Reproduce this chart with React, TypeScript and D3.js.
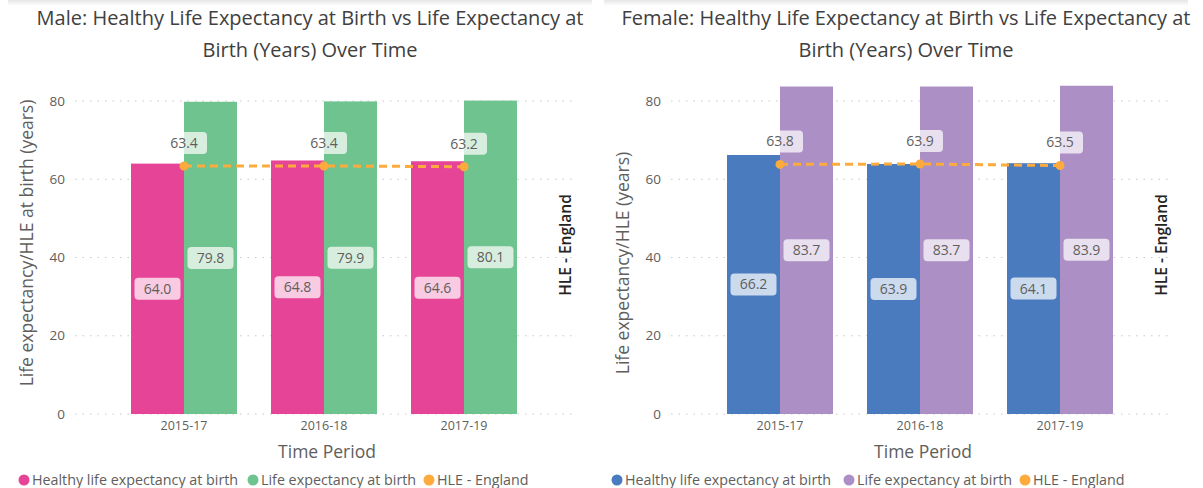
import React from "react";
import * as d3 from "d3";

const periods = ["2015-17", "2016-18", "2017-19"];
const yTicks = [0, 20, 40, 60, 80];

const maleHle = [64.0, 64.8, 64.6];
const maleLe = [79.8, 79.9, 80.1];
const maleEngland = [63.4, 63.4, 63.2];

const femaleHle = [66.2, 63.9, 64.1];
const femaleLe = [83.7, 83.7, 83.9];
const femaleEngland = [63.8, 63.9, 63.5];

const legendNames = ["Healthy life expectancy at birth", "Life expectancy at birth", "HLE - England"];

const FONT = "'Segoe UI', 'Open Sans', sans-serif";
const GREY = "#605E5C";
const ORANGE = "#FDAB3D";

type PanelProps = {
  left: number;
  title: string[];
  yTitle: string;
  yTitleY: number;
  hle: number[];
  le: number[];
  england: number[];
  colors: string[];
  legendX: number[];
};

function Panel(p: PanelProps) {
  const L = p.left;
  var x = d3.scaleBand()
    .domain(periods)
    .range([L + 114, L + 534])
    .paddingInner(0.243)
    .paddingOuter(0.1215);
  var sub = d3.scaleBand().domain(["hle", "le"]).range([0, x.bandwidth()]);
  var y = d3.scaleLinear().domain([0, 80]).range([414, 101]);

  var gx0 = L + 75, gx1 = L + 575;
  var cx = (d: string) => (x(d) as number) + x.bandwidth() / 2;

  var line = d3.line<number>()
    .x((d, i) => cx(periods[i]))
    .y(d => y(d));

  const label = (txt: string, lx: number, ly: number, key: string) => {
    var w = 46;
    return (
      <g key={key}>
        <rect x={lx - w / 2} y={ly - 11} width={w} height={22} rx={4}
          fill="white" fillOpacity={0.72} />
        <text x={lx} y={ly} dy="0.35em" textAnchor="middle" fontSize={14} fill={GREY}>{txt}</text>
      </g>
    );
  };

  return (
    <g fontFamily={FONT}>
      {/* card shadow */}
      <rect x={L + 8} y={0} width={584} height={6} fill="url(#shadow)" />
      {p.title.map((t, i) => (
        <text key={t} x={L + 310} y={18 + i * 32} dy="0.35em" textAnchor="middle"
          fontSize={20} fill="#404040">{t}</text>
      ))}

      {yTicks.map(t => (
        <g key={t}>
          <line x1={gx0} x2={gx1} y1={y(t)} y2={y(t)} stroke="#C8C8C8"
            strokeDasharray="1.5 6" />
          <text x={L + 65} y={y(t)} dy="0.35em" textAnchor="end" fontSize={13.5} fill={GREY}>{t}</text>
        </g>
      ))}

      <text transform={`translate(${L + 27},${p.yTitleY}) rotate(-90)`} textAnchor="middle"
        dy="0.35em" fontSize={17.5} fill={GREY}>{p.yTitle}</text>
      <text transform={`translate(${L + 566},${245}) rotate(-90)`} textAnchor="middle"
        dy="0.35em" fontSize={15.5} fontWeight={600} fill="#252423">HLE - England</text>

      {periods.map((d, i) => (
        <g key={d}>
          <rect x={(x(d) as number) + (sub("hle") as number)} y={y(p.hle[i])}
            width={sub.bandwidth()} height={y(0) - y(p.hle[i])} fill={p.colors[0]} />
          <rect x={(x(d) as number) + (sub("le") as number)} y={y(p.le[i])}
            width={sub.bandwidth()} height={y(0) - y(p.le[i])} fill={p.colors[1]} />
          <text x={cx(d)} y={426} dy="0.35em" textAnchor="middle" fontSize={12.5} fill={GREY}>{d}</text>
        </g>
      ))}

      <path d={line(p.england) as string} fill="none" stroke={ORANGE} strokeWidth={3}
        strokeDasharray="8 5" />
      {p.england.map((v, i) => (
        <circle key={i} cx={cx(periods[i])} cy={y(v)} r={4.5} fill={ORANGE} />
      ))}

      {periods.map((d, i) => label(p.hle[i].toFixed(1),
        (x(d) as number) + (sub("hle") as number) + sub.bandwidth() / 2,
        (y(p.hle[i]) + y(0)) / 2, "h" + i))}
      {periods.map((d, i) => label(p.le[i].toFixed(1),
        (x(d) as number) + (sub("le") as number) + sub.bandwidth() / 2,
        (y(p.le[i]) + y(0)) / 2, "l" + i))}
      {periods.map((d, i) => label(p.england[i].toFixed(1), cx(d), y(p.england[i]) - 23, "e" + i))}

      <text x={L + 327} y={452} dy="0.35em" textAnchor="middle" fontSize={17.5} fill={GREY}>Time Period</text>

      {legendNames.map((n, i) => (
        <g key={n}>
          <circle cx={L + p.legendX[i]} cy={480} r={5.5}
            fill={i === 2 ? ORANGE : p.colors[i]} />
          <text x={L + p.legendX[i] + 8} y={480} dy="0.35em" fontSize={14.3} fill={GREY}>{n}</text>
        </g>
      ))}
    </g>
  );
}

export default function App() {
  return (
    <svg width={1203} height={488} style={{ position: "absolute", left: 0, top: 0, background: "white" }}>
      <defs>
        <linearGradient id="shadow" x1="0" y1="0" x2="0" y2="1">
          <stop offset="0" stopColor="#e6e6e6" />
          <stop offset="1" stopColor="#ffffff" />
        </linearGradient>
      </defs>
      <Panel left={0}
        title={["Male: Healthy Life Expectancy at Birth vs Life Expectancy at", "Birth (Years) Over Time"]}
        yTitle="Life expectancy/HLE at birth (years)" yTitleY={243}
        hle={maleHle} le={maleLe} england={maleEngland}
        colors={["#E64597", "#6FC38E"]}
        legendX={[24, 253, 429]} />
      <Panel left={596}
        title={["Female: Healthy Life Expectancy at Birth vs Life Expectancy at", "Birth (Years) Over Time"]}
        yTitle="Life expectancy/HLE (years)" yTitleY={263}
        hle={femaleHle} le={femaleLe} england={femaleEngland}
        colors={["#4A7BBE", "#AC8FC4"]}
        legendX={[21, 253, 429]} />
    </svg>
  );
}
